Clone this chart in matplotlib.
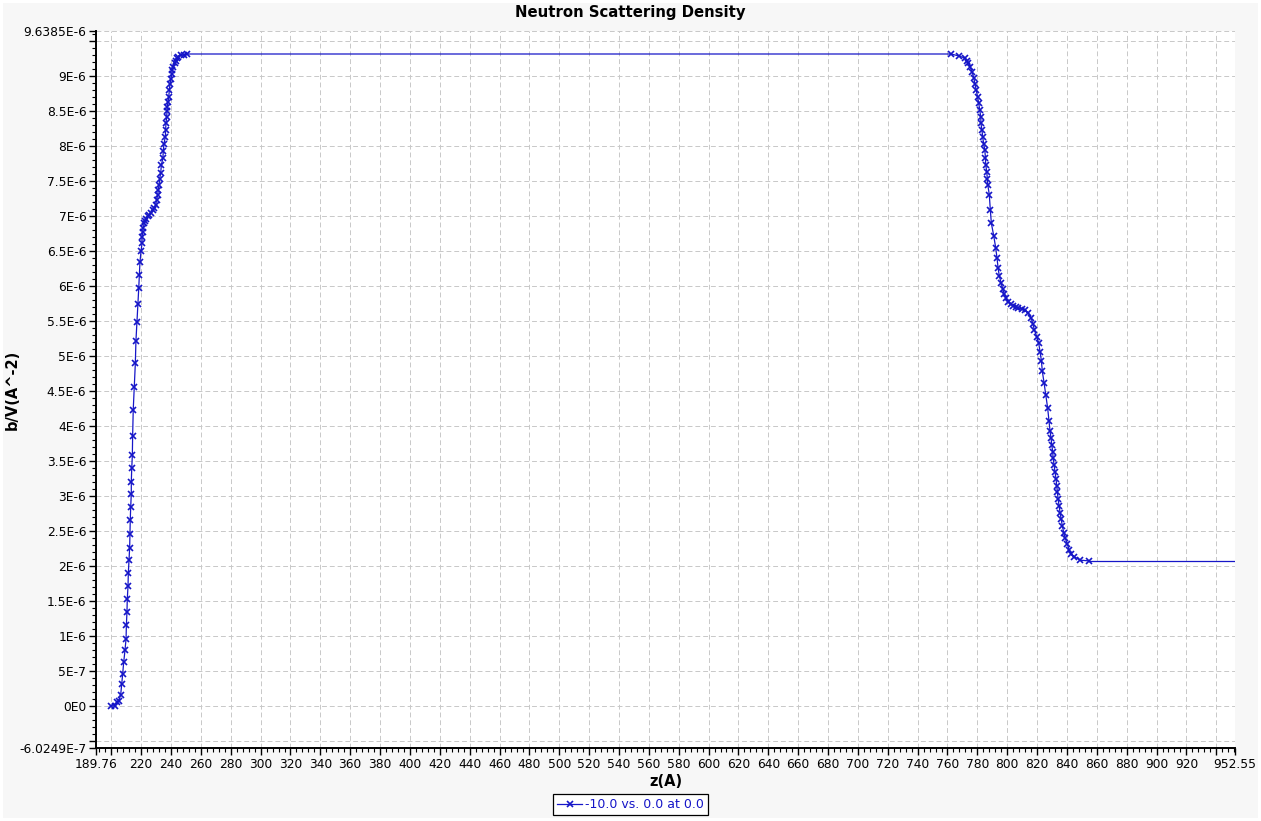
import numpy as np
import matplotlib.pyplot as plt
from matplotlib.patches import Rectangle
from matplotlib.ticker import MultipleLocator

# rising edge (z in A, density in 1e-6 A^-2)
rise_z = [200.0, 202.7, 203.6, 205.0, 206.3, 207.0, 207.6, 208.3, 209.2, 209.9,
          210.1, 210.5, 210.7, 211.2, 211.4, 211.9, 212.3, 212.5, 212.7, 213.0,
          213.4, 213.4, 213.7, 214.1, 214.3, 214.7, 215.4, 216.1, 216.5, 217.2,
          217.9, 218.4, 218.8, 219.2, 219.9, 220.6, 220.6, 221.0, 221.4, 222.1,
          222.6, 223.2, 224.4, 225.5, 226.6, 227.7, 228.8, 229.7, 230.4, 231.1,
          231.5, 232.0, 232.4, 233.1, 233.5, 234.6, 234.8, 235.3, 236.2, 236.4,
          236.6, 237.1, 237.3, 237.5, 238.0, 238.5, 238.9, 239.3, 240.0, 240.5,
          240.9, 241.5, 242.5, 243.1, 243.8, 244.7, 246.5, 248.7, 250.5]
rise_rho = [0.00, 0.00, 0.05, 0.07, 0.16, 0.31, 0.45, 0.62, 0.80, 0.96,
            1.15, 1.34, 1.52, 1.71, 1.89, 2.08, 2.26, 2.45, 2.65, 2.84,
            3.03, 3.20, 3.39, 3.58, 3.86, 4.23, 4.56, 4.89, 5.21, 5.48,
            5.74, 5.97, 6.16, 6.34, 6.49, 6.61, 6.70, 6.77, 6.83, 6.89,
            6.93, 6.96, 6.99, 7.01, 7.04, 7.08, 7.11, 7.15, 7.23, 7.30,
            7.37, 7.44, 7.53, 7.61, 7.72, 7.83, 7.92, 8.03, 8.13, 8.22,
            8.32, 8.41, 8.49, 8.56, 8.63, 8.70, 8.80, 8.88, 8.96, 9.03,
            9.08, 9.13, 9.18, 9.21, 9.25, 9.27, 9.29, 9.30, 9.31]

# falling edge
fall_z = [762.4, 768.0, 771.8, 772.9, 774.0, 775.1, 776.4, 777.6, 778.4, 779.3,
          780.2, 780.9, 781.6, 782.3, 782.4, 783.1, 783.6, 784.3, 785.0, 785.4,
          785.6, 786.3, 786.7, 787.0, 788.0, 788.7, 789.4, 791.0, 792.3, 793.2,
          793.9, 794.7, 795.9, 797.0, 798.1, 799.2, 800.8, 802.6, 804.1, 805.9,
          807.5, 809.7, 811.9, 814.2, 816.0, 817.1, 818.2, 819.8, 821.1, 822.0,
          822.9, 823.5, 824.7, 825.8, 827.1, 828.0, 828.7, 829.4, 829.8, 830.5,
          830.7, 831.4, 832.0, 832.7, 833.2, 833.6, 834.1, 834.7, 835.4, 836.1,
          836.9, 837.9, 838.9, 840.3, 841.4, 842.8, 845.0, 848.8, 855.0]
fall_rho = [9.31, 9.28, 9.25, 9.21, 9.18, 9.13, 9.06, 8.97, 8.88, 8.79,
            8.69, 8.61, 8.51, 8.41, 8.32, 8.22, 8.12, 8.02, 7.94, 7.83,
            7.73, 7.63, 7.53, 7.44, 7.30, 7.08, 6.89, 6.71, 6.54, 6.39,
            6.25, 6.14, 6.04, 5.95, 5.88, 5.82, 5.77, 5.74, 5.71, 5.69,
            5.68, 5.67, 5.65, 5.61, 5.54, 5.46, 5.37, 5.27, 5.18, 5.06,
            4.93, 4.78, 4.61, 4.44, 4.25, 4.07, 3.92, 3.82, 3.73, 3.63,
            3.54, 3.44, 3.34, 3.24, 3.14, 3.05, 2.95, 2.86, 2.76, 2.67,
            2.57, 2.47, 2.39, 2.31, 2.23, 2.17, 2.13, 2.08, 2.07]

# substrate level carried on to the right edge
tail_z = [855.0, 952.55]
tail_rho = [2.07, 2.07]

x_min, x_max = 189.76, 952.55
y_min, y_max = -6.0249e-7, 9.6385e-6

z = np.array(rise_z + fall_z)
rho = np.array(rise_rho + fall_rho) * 1e-6

fig = plt.figure(figsize=(12.61, 8.21), dpi=100, facecolor='white')
fig.patches.append(Rectangle((3 / 1261, 3 / 821), 1255 / 1261, 815 / 821,
                             transform=fig.transFigure, facecolor='#f7f7f7',
                             edgecolor='none', zorder=-10))
ax = fig.add_axes([96 / 1261, 1 - 748 / 821, 1139 / 1261, 717 / 821])
ax.set_facecolor('white')

blue = '#1616c8'
ax.plot(z, rho, color=blue, lw=0.9, marker='x', ms=4, mew=1.2,
        label='-10.0 vs. 0.0 at 0.0', zorder=3)
ax.plot(tail_z, np.array(tail_rho) * 1e-6, color=blue, lw=0.9, zorder=3)

ax.set_xlim(x_min, x_max)
ax.set_ylim(y_min, y_max)

# ticks
xt = [x_min] + list(range(200, 941, 20)) + [x_max]
xl = ['189.76'] + [('' if v in (200, 940) else str(v)) for v in range(200, 941, 20)] + ['952.55']
ax.set_xticks(xt)
ax.set_xticklabels(xl)
ax.xaxis.set_minor_locator(MultipleLocator(4))


def sci(v):
    if abs(v) < 1e-12:
        return '0E0'
    m, e = f'{v:.1e}'.split('e')
    if m.endswith('.0'):
        m = m[:-2]
    return f'{m}E{int(e)}'


ymaj = [i * 5e-7 for i in range(-1, 20)]
yt = [y_min] + ymaj + [y_max]
yl = ['-6.0249E-7'] + [('' if i in (-1, 19) else sci(i * 5e-7)) for i in range(-1, 20)] + ['9.6385E-6']
ax.set_yticks(yt)
ax.set_yticklabels(yl)
ax.yaxis.set_minor_locator(MultipleLocator(1e-7))

ax.tick_params(axis='both', which='major', direction='out', length=5, width=1,
               labelsize=8.8, pad=2, colors='black')
ax.tick_params(axis='both', which='minor', direction='out', length=3, width=0.8)

ax.grid(True, which='major', color='#c8c8c8', lw=0.7, ls=(0, (5, 3)))
ax.set_axisbelow(True)
for s in ['top', 'right']:
    ax.spines[s].set_visible(False)
for s in ['left', 'bottom']:
    ax.spines[s].set_linewidth(1.4)

fig.text(0.5, 1 - 12 / 821, 'Neutron Scattering Density', ha='center', va='center',
         fontsize=10.7, fontweight='bold')
ax.set_xlabel('z(A)', fontsize=10.5, fontweight='bold', labelpad=2)
ax.set_ylabel('b/V(A^-2)', fontsize=10.5, fontweight='bold', va='center')
ax.yaxis.set_label_coords((12.5 - 96) / 1139, 0.5)

leg = fig.legend(loc='center', bbox_to_anchor=(0.5, 1 - 804.5 / 821), fontsize=9,
                 frameon=True, fancybox=False, edgecolor='black', facecolor='white',
                 framealpha=1, labelcolor=blue, handlelength=2.0, handletextpad=0.2,
                 borderpad=0.35, borderaxespad=0)
leg.get_frame().set_linewidth(0.9)

fig.savefig('out.png', dpi=100, facecolor=fig.get_facecolor())
